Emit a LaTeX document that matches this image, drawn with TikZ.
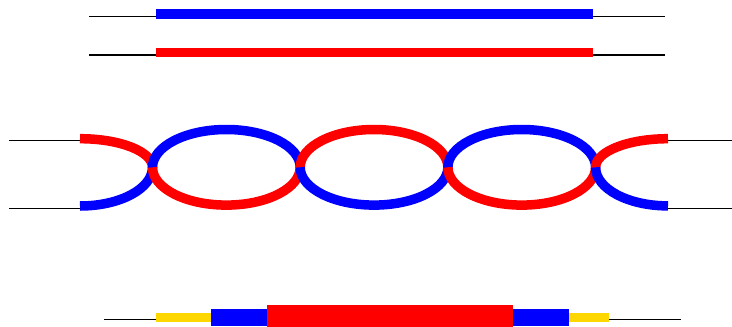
\documentclass[tikz,border=0pt]{standalone}
\definecolor{gold}{RGB}{255,215,0}
\begin{document}
\begin{tikzpicture}[x=1pt,y=-1pt,
  wire/.style={black,line width=1.3pt},
  strand/.style={line width=9.5pt,line cap=butt}]
\useasboundingbox (0,0) rectangle (732,327);
% top pair
\draw[wire] (89,16.5) -- (665,16.5);
\fill[blue] (156,9.3) rectangle (593.3,19);
\draw[wire] (89,55) -- (665,55);
\fill[red] (156,48) rectangle (593.3,57.3);
% middle
\draw[wire] (9,140.8) -- (80,140.8);
\draw[wire] (9,208.5) -- (80,208.5);
\draw[wire] (668,140.8) -- (732,140.8);
\draw[wire] (668,208.5) -- (732,208.5);
% left end arcs
\draw[strand,red] (80,138.7) arc[start angle=270,end angle=360,x radius=72.5,y radius=28.6];
\draw[strand,blue] (80,206) arc[start angle=90,end angle=0,x radius=72.5,y radius=38.8];
% loops
\def\cy{167.3}
\draw[strand,blue] (152.5,\cy) arc[start angle=180,end angle=360,x radius=73.85,y radius=37.8];
\draw[strand,red] (152.5,\cy) arc[start angle=180,end angle=0,x radius=73.85,y radius=37.8];
\draw[strand,red] (300.2,\cy) arc[start angle=180,end angle=360,x radius=73.85,y radius=37.8];
\draw[strand,blue] (300.2,\cy) arc[start angle=180,end angle=0,x radius=73.85,y radius=37.8];
\draw[strand,blue] (447.9,\cy) arc[start angle=180,end angle=360,x radius=73.85,y radius=37.8];
\draw[strand,red] (447.9,\cy) arc[start angle=180,end angle=0,x radius=73.85,y radius=37.8];
% right end arcs
\draw[strand,red] (595.6,\cy) arc[start angle=180,end angle=270,x radius=72.4,y radius=28.6];
\draw[strand,blue] (595.6,\cy) arc[start angle=180,end angle=90,x radius=72.4,y radius=38.6];
% bottom
\draw[wire] (104,319.4) -- (681,319.4);
\fill[gold] (155.7,312.7) rectangle (211,322);
\fill[blue] (211,309.2) rectangle (267,325.6);
\fill[red] (267,305.2) rectangle (513.3,327);
\fill[blue] (513.3,309.2) rectangle (569.3,325.6);
\fill[gold] (569.3,312.7) rectangle (609,322);
\end{tikzpicture}
\end{document}
